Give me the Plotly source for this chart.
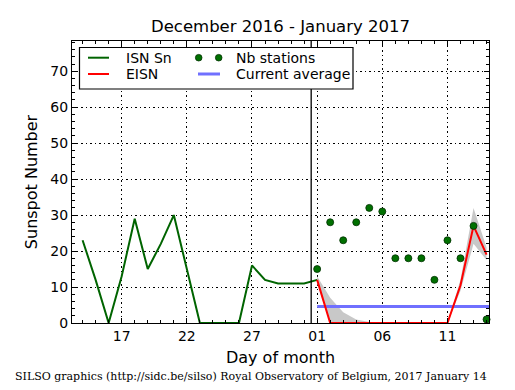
import plotly.graph_objects as go

# ---------------- data ----------------
isn_dates = ["2016-12-14", "2016-12-15", "2016-12-16", "2016-12-17", "2016-12-18",
             "2016-12-19", "2016-12-20", "2016-12-21", "2016-12-22", "2016-12-23",
             "2016-12-24", "2016-12-25", "2016-12-26", "2016-12-27", "2016-12-28",
             "2016-12-29", "2016-12-30", "2016-12-31", "2017-01-01"]
isn_values = [23, 12, 0, 13, 29, 15, 22, 30, 15, 0, 0, 0, 0, 16, 12, 11, 11, 11, 12]

eisn_dates = ["2017-01-01", "2017-01-02", "2017-01-03", "2017-01-04", "2017-01-05",
              "2017-01-06", "2017-01-07", "2017-01-08", "2017-01-09", "2017-01-10",
              "2017-01-11", "2017-01-12", "2017-01-13", "2017-01-14"]
eisn_values = [12, 0, 0, 0, 0, 0, 0, 0, 0, 0, 0, 10.5, 27, 19]
eisn_upper = [13, 7, 3, 1, 0.3, 0, 0, 0, 0, 0, 0, 12, 32, 21]
eisn_lower = [11, 0, 0, 0, 0, 0, 0, 0, 0, 0, 0, 9, 22, 17.5]
nb_stations = [15, 28, 23, 28, 32, 31, 18, 18, 18, 12, 23, 18, 27, 1]

avg_dates = ["2017-01-01", "2017-01-14 04:30"]
avg_values = [4.6, 4.6]

now_marker = "2016-12-31 13:00"
x_range = ["2016-12-13 04:30", "2017-01-14 04:30"]
y_range = [0, 78.4]

title_text = "December 2016 - January 2017"
footer_text = "SILSO graphics (http://sidc.be/silso) Royal Observatory of Belgium, 2017 January 14"

# ---------------- styles ----------------
GREEN = "#006400"
RED = "#ff0000"
BLUE = "#7070ff"
FONT = "DejaVu Sans"

W, H = 515, 390
ML, MR, MT, MB = 72, 26, 41, 67
PW, PH = W - ML - MR, H - MT - MB


def px(xpix):
    return (xpix - ML) / PW


def py(ypix):
    return (MT + PH - ypix) / PH


fig = go.Figure()

# uncertainty band
fig.add_trace(go.Scatter(x=eisn_dates, y=eisn_lower, mode="lines",
                         line=dict(width=0, color="rgba(0,0,0,0)"),
                         showlegend=False, hoverinfo="skip"))
fig.add_trace(go.Scatter(x=eisn_dates, y=eisn_upper, mode="lines",
                         line=dict(width=0, color="rgba(0,0,0,0)"),
                         fill="tonexty", fillcolor="rgb(200,200,200)",
                         showlegend=False, hoverinfo="skip"))
fig.add_trace(go.Scatter(x=avg_dates, y=avg_values, mode="lines",
                         line=dict(color=BLUE, width=3), name="Current average"))
fig.add_trace(go.Scatter(x=isn_dates, y=isn_values, mode="lines",
                         line=dict(color=GREEN, width=2), name="ISN Sn"))
fig.add_trace(go.Scatter(x=eisn_dates, y=eisn_values, mode="lines",
                         line=dict(color=RED, width=2), name="EISN"))
fig.add_trace(go.Scatter(x=eisn_dates, y=nb_stations, mode="markers",
                         marker=dict(color="#007000", size=7,
                                     line=dict(color="#003000", width=0.8)),
                         name="Nb stations", cliponaxis=False))

shapes = [
    dict(type="line", xref="x", yref="paper", x0=now_marker, x1=now_marker,
         y0=0, y1=1, line=dict(color="black", width=1.3), layer="above"),
]

# manual legend (matplotlib style)
shapes.append(dict(type="rect", xref="paper", yref="paper",
                   x0=px(79.5), x1=px(353), y0=py(47.5), y1=py(89),
                   line=dict(color="black", width=1.2), fillcolor="white", layer="above"))
r1, r2 = 57.7, 74
shapes.append(dict(type="line", xref="paper", yref="paper", x0=px(88), x1=px(109),
                   y0=py(r1), y1=py(r1), line=dict(color=GREEN, width=2), layer="above"))
shapes.append(dict(type="line", xref="paper", yref="paper", x0=px(88), x1=px(109),
                   y0=py(r2), y1=py(r2), line=dict(color=RED, width=2), layer="above"))
shapes.append(dict(type="line", xref="paper", yref="paper", x0=px(198), x1=px(220),
                   y0=py(r2), y1=py(r2), line=dict(color=BLUE, width=3), layer="above"))
for cx in (198.7, 218.7):
    shapes.append(dict(type="circle", xref="paper", yref="paper",
                       xsizemode="pixel", ysizemode="pixel",
                       xanchor=px(cx), yanchor=py(r1),
                       x0=-3.3, x1=3.3, y0=-3.3, y1=3.3,
                       fillcolor="#007000", line=dict(color="#003000", width=0.8),
                       layer="above"))

annotations = []
for txt, xx, yy in [("ISN Sn", 123.5, r1), ("EISN", 123.5, r2),
                    ("Nb stations", 234.3, r1), ("Current average", 234.3, r2)]:
    annotations.append(dict(text=txt, xref="paper", yref="paper", x=px(xx), y=py(yy),
                            xanchor="left", yanchor="middle", showarrow=False,
                            font=dict(family=FONT, size=14, color="black")))
annotations.append(dict(text=footer_text, xref="paper", yref="paper",
                        x=px(13), y=py(376), xanchor="left", yanchor="middle",
                        showarrow=False,
                        font=dict(family="DejaVu Serif", size=11, color="black")))

axis_common = dict(
    showline=True, linecolor="black", linewidth=1.2, mirror="allticks",
    ticks="inside", ticklen=5, tickwidth=1, tickcolor="black",
    showgrid=True, gridcolor="black", gridwidth=1, griddash="1.5px,3px",
    zeroline=False,
    tickfont=dict(family=FONT, size=14, color="black"),
)

fig.update_layout(
    width=W, height=H,
    margin=dict(l=ML, r=MR, t=MT, b=MB),
    paper_bgcolor="white", plot_bgcolor="white",
    showlegend=False,
    font=dict(family=FONT, color="black"),
    title=dict(text=title_text, x=(ML + PW / 2) / W, xanchor="center",
               y=1 - 26 / H, yanchor="middle",
               font=dict(family=FONT, size=16.5, color="black")),
    xaxis=dict(
        type="date", range=x_range,
        tick0="2016-12-17", dtick=5 * 86400000, tickformat="%d",
        minor=dict(dtick=86400000, ticks="inside", ticklen=3, tickcolor="black",
                   showgrid=False),
        title=dict(text="Day of month", standoff=8,
                   font=dict(family=FONT, size=16, color="black")),
        **axis_common,
    ),
    yaxis=dict(
        range=y_range, tick0=0, dtick=10,
        minor=dict(dtick=2, ticks="inside", ticklen=3, tickcolor="black",
                   showgrid=False),
        title=dict(text="Sunspot Number", standoff=8,
                   font=dict(family=FONT, size=16, color="black")),
        **axis_common,
    ),
    shapes=shapes,
    annotations=annotations,
)

fig.write_html("out.html",
               config={"displayModeBar": False},
               post_script="document.body.style.margin='0px';"
                           "document.body.style.overflow='hidden';")
